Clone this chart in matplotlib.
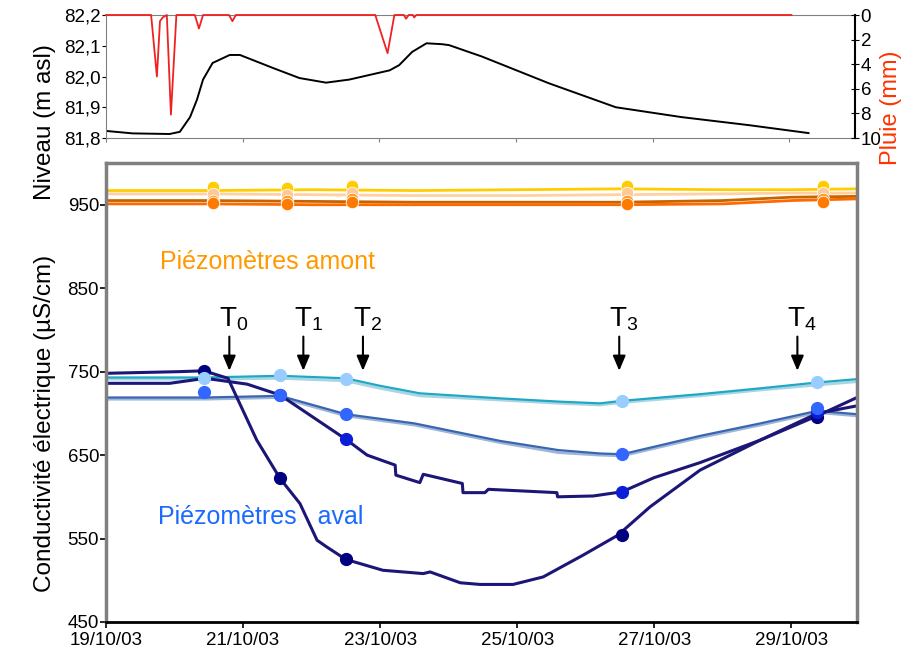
import datetime
import numpy as np
import matplotlib
matplotlib.use("Agg")
import matplotlib.pyplot as plt
import matplotlib.dates as mdates
from matplotlib.ticker import FuncFormatter

plt.rcParams['font.family'] = ['Liberation Sans', 'DejaVu Sans']

# time in days since 19/10/03 00:00
base = mdates.date2num(datetime.datetime(2003, 10, 19))

# water level (m asl)
lvl_t = [0, 0.39, 0.93, 1.08, 1.23, 1.33, 1.42, 1.56, 1.81, 1.96, 2.44, 2.83, 3.22, 3.56,
         4.15, 4.29, 4.48, 4.69, 4.92, 5.02, 5.50, 6.48, 7.46, 8.42, 9.40, 10.28]
lvl_v = [81.823, 81.815, 81.813, 81.82, 81.868, 81.924, 81.99, 82.044, 82.07, 82.07, 82.028,
         81.995, 81.98, 81.99, 82.02, 82.037, 82.08, 82.108, 82.105, 82.102, 82.065, 81.978,
         81.90, 81.868, 81.842, 81.816]

# rainfall (mm)
rain_t = [0, 0.66, 0.745, 0.79, 0.83, 0.89, 0.95, 1.03, 1.30, 1.36, 1.42, 1.80, 1.85, 1.90,
          3.94, 4.12, 4.22, 4.36, 4.39, 4.43, 4.49, 4.51, 4.54, 10.03]
rain_v = [0, 0, 5.0, 0.5, 0.2, 0, 8.1, 0, 0, 1.1, 0, 0, 0.5, 0, 0, 3.1, 0, 0, 0.3, 0, 0, 0.2, 0, 0]

# upstream piezometers (µS/cm)
up_t = [0, 1.5, 3.0, 4.5, 6.0, 7.5, 9.0, 10.0, 10.96]
up_yellow = [967, 967, 968, 967, 968, 969, 968, 968, 969]
up_peach = [963, 963, 962, 961, 961, 962, 963, 964, 964]
up_brown = [955, 955, 954, 953, 953, 953, 955, 959, 960]
up_orange = [951, 951, 950, 950, 950, 950, 951, 955, 957]
up_samp_t = [1.56, 2.64, 3.59, 7.61, 10.47]
up_samp_yellow = [971, 970, 973, 972, 972]
up_samp_peach = [963, 962, 964, 964, 964]
up_samp_brown = [955, 954, 957, 955, 957]
up_samp_orange = [952, 951, 953, 951, 953]

# downstream piezometers
cyan_t = [0, 1.45, 2.54, 3.50, 4.0, 4.58, 5.75, 6.63, 7.21, 7.53, 8.67, 9.55, 10.38, 10.96]
cyan_v = [743, 743, 745, 742, 733, 724, 718, 714, 712, 715, 723, 730, 737, 741]
cyan2_v = [741, 741, 742, 739, 730, 721, 716, 712, 710, 713, 721, 728, 734, 738]

blue_t = [0, 1.45, 2.54, 3.50, 4.5, 5.75, 6.6, 7.20, 7.53, 8.0, 8.67, 9.55, 10.38, 10.96]
blue_v = [719, 719, 721, 699, 688, 667, 656, 652, 651, 660, 673, 688, 703, 699]
blue2_v = [717, 717, 719, 697, 686, 665, 653, 650, 649, 658, 671, 686, 701, 697]

navy1_t = [0, 1.07, 1.43, 1.78, 2.20, 2.54, 2.83, 3.08, 3.22, 3.50, 4.04, 4.63, 4.73,
           5.17, 5.46, 5.94, 6.38, 6.96, 7.47, 7.94, 8.67, 9.55, 10.38, 10.96]
navy1_v = [748, 750, 751, 742, 668, 622, 592, 548, 540, 525, 512, 508, 510, 497, 495, 495,
           504, 530, 554, 588, 632, 668, 697, 719]

navy2_t = [0, 0.93, 1.45, 2.06, 2.54, 3.50, 3.81, 4.22, 4.23, 4.58, 4.63, 5.20, 5.21, 5.53,
           5.58, 6.58, 6.59, 7.11, 7.53, 8.0, 8.67, 9.55, 10.38, 10.96]
navy2_v = [736, 736, 742, 735, 722, 669, 650, 638, 626, 617, 627, 616, 605, 605, 609, 605,
           600, 601, 606, 623, 641, 668, 700, 709]

samp_t = [1.43, 2.54, 3.50, 7.53, 10.38]
samp_cyan = [742, 746, 741, 715, 737]
samp_blue = [725, 722, 699, 651, 706]
samp_navy1 = [751, 622, 525, 554, 696]
samp_navy2_t = [2.54, 3.50, 7.53, 10.38]
samp_navy2 = [722, 669, 606, 702]

# sampling campaigns
camp_t = [1.80, 2.88, 3.75, 7.49, 10.09]
camp_lab = ['0', '1', '2', '3', '4']

def d(ts):
    return base + np.asarray(ts, dtype=float)

W, H = 903, 657
fig = plt.figure(figsize=(W / 100, H / 100), dpi=100)
ax1 = fig.add_axes([106 / W, 1 - 138 / H, (855 - 106) / W, (138 - 15) / H])
ax2 = fig.add_axes([106 / W, 1 - 622 / H, (857 - 106) / W, (622 - 163) / H])

x0, x1 = base, base + 10.96
comma = FuncFormatter(lambda v, p: ('%.1f' % v).replace('.', ','))

# ---- top panel: level + rain
ax1.plot(d(lvl_t), lvl_v, color='black', lw=1.4)
ax1.set_xlim(x0, x1)
ax1.set_ylim(81.8, 82.2)
ax1.set_yticks([81.8, 81.9, 82.0, 82.1, 82.2])
ax1.yaxis.set_major_formatter(comma)
ax1.xaxis.set_major_locator(mdates.DayLocator(bymonthday=[19, 21, 23, 25, 27, 29]))
ax1.tick_params(axis='x', labelbottom=False, length=3, color='#808080')
ax1.tick_params(axis='y', length=3, labelsize=13.5, pad=1)
for s in ['left', 'bottom', 'top']:
    ax1.spines[s].set_color('#808080')
ax1.spines['right'].set_visible(False)
ax1.patch.set_alpha(0)

axr = ax1.twinx()
axr.plot(d(rain_t), rain_v, color='#EE2222', lw=1.3, clip_on=False)
axr.set_ylim(10, 0)
axr.set_yticks([0, 2, 4, 6, 8, 10])
axr.tick_params(axis='y', direction='inout', length=6, labelsize=13.5, pad=1)
axr.spines['right'].set_linewidth(1.5)
for s in ['left', 'bottom', 'top']:
    axr.spines[s].set_visible(False)
axr.set_xlim(x0, x1)

# ---- bottom panel: conductivity
up_lines = [(up_yellow, up_samp_yellow, '#FFCC00', '#FFCC00'),
            (up_peach, up_samp_peach, '#FFD0A0', '#FFC896'),
            (up_brown, up_samp_brown, '#C86400', '#FF9A1A'),
            (up_orange, up_samp_orange, '#FF6A00', '#FF7A00')]
for vals, sv, lc, mc in up_lines:
    ax2.plot(d(up_t), vals, color=lc, lw=2.0)
    ax2.plot(d(up_samp_t), sv, 'o', color=mc, ms=9, mec='white', mew=0.6)

ax2.plot(d(cyan_t), cyan2_v, color='#A8D4E3', lw=2.0)
ax2.plot(d(cyan_t), cyan_v, color='#1FA8C4', lw=1.6)
ax2.plot(d(blue_t), blue2_v, color='#9DB5D9', lw=2.0)
ax2.plot(d(blue_t), blue_v, color='#3A66B0', lw=1.6)
ax2.plot(d(navy2_t), navy2_v, color='#1C1677', lw=2.2)
ax2.plot(d(navy1_t), navy1_v, color='#1C1677', lw=2.2)

ax2.plot(d(samp_t), samp_navy1, 'o', color='#000080', ms=8.5)
ax2.plot(d(samp_navy2_t), samp_navy2, 'o', color='#0A1ED8', ms=8.5)
ax2.plot(d(samp_t), samp_blue, 'o', color='#3366FF', ms=8.5)
ax2.plot(d(samp_t), samp_cyan, 'o', color='#99CCFF', ms=8.5)

for t, lab in zip(camp_t, camp_lab):
    ax2.annotate('', xy=(d(t), 751), xytext=(d(t), 792),
                 arrowprops=dict(arrowstyle='-|>,head_width=0.38,head_length=0.9',
                                 color='black', lw=1.5, shrinkA=0, shrinkB=0))
    ax2.text(d(t) + 0.07, 796, r'T$_{\mathregular{%s}}$' % lab, ha='center', va='bottom',
             fontsize=20)

ax2.text(d(0.79), 881, 'Piézomètres amont', color='#FF9900', fontsize=18, va='center')
ax2.text(d(0.76), 576, 'Piézomètres   aval', color='#1A6AFF', fontsize=18, va='center')

ax2.set_xlim(x0, x1)
ax2.set_ylim(450, 1000)
ax2.set_yticks([450, 550, 650, 750, 850, 950])
ax2.xaxis.set_major_locator(mdates.DayLocator(bymonthday=[19, 21, 23, 25, 27, 29]))
ax2.xaxis.set_major_formatter(mdates.DateFormatter('%d/%m/%y'))
ax2.tick_params(axis='both', length=4, width=1.2, labelsize=13.5)
ax2.tick_params(axis='x', pad=3)
ax2.tick_params(axis='y', pad=1)
for s in ['left', 'top', 'right']:
    ax2.spines[s].set_color('#808080')
    ax2.spines[s].set_linewidth(2.5)
ax2.spines['bottom'].set_linewidth(2)

fig.text(45 / W, 1 - 122 / H, 'Niveau (m asl)', rotation=90, ha='center', va='center',
         fontsize=17.5)
fig.text(45 / W, 1 - 423 / H, 'Conductivité électrique (µS/cm)', rotation=90,
         ha='center', va='center', fontsize=17.5)
fig.text(891 / W, 1 - 108 / H, 'Pluie (mm)', rotation=90, ha='center', va='center',
         fontsize=17, color='#FF3300')

fig.savefig('out.png', dpi=100)
